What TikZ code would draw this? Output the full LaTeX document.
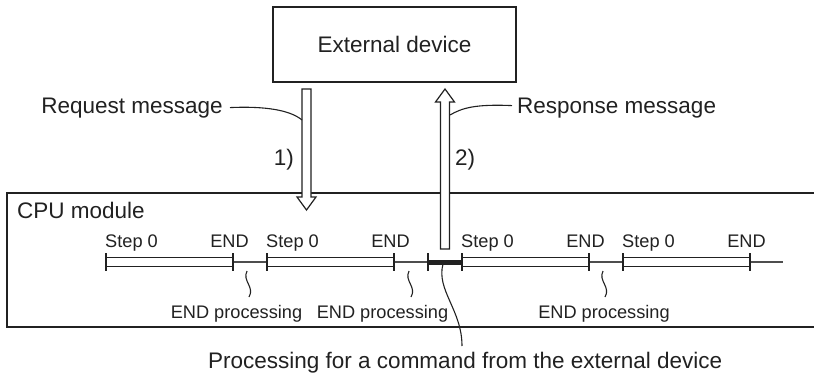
\documentclass[tikz,border=0pt]{standalone}
\usepackage{fontspec}
\setmainfont{Liberation Sans}
\usetikzlibrary{calc}
\definecolor{ink}{gray}{0.13}
\def\blockarrow(#1:#2:#3:#4){\draw[blockarrow] (#1-4.5,#2) -- (#1-4.5,#3) -- (#1-9.5,#3) -- (#1,#4) -- (#1+9.5,#3) -- (#1+4.5,#3) -- (#1+4.5,#2) -- cycle;}
\def\scanbar(#1:#2){\draw[scanbar] (#1,257.5) rectangle (#2,266.5); \draw[scantick] (#1,253) -- (#1,271); \draw[scantick] (#2,253) -- (#2,271);}
\def\squiggle(#1){\draw[leader] (#1,271) .. controls (#1-5,281) and (#1+8,287) .. (#1+2,297);}
\tikzset{
	bigtext/.style={font=\fontsize{22.5}{27}\selectfont, text=ink, inner sep=0pt},
	smalltext/.style={font=\fontsize{18.2}{22}\selectfont, text=ink, inner sep=0pt},
	frame/.style={draw=ink, line width=1.3pt},
	blockarrow/.style={draw=ink, line width=1.2pt, fill=white},
	leader/.style={draw=ink, line width=1.1pt},
	scanbar/.style={draw=ink, line width=1.2pt, fill=white},
	scantick/.style={draw=ink, line width=1.2pt},
	timeline/.style={draw=ink!80, line width=1.4pt},
	cmdbar/.style={fill=ink}
}
\begin{document}
\begin{tikzpicture}[x=1pt,y=-1pt]
			%%%%% START %%%%%
			\useasboundingbox (0,0) rectangle (814,380);
			
			\node[frame, bigtext, minimum width=243pt, minimum height=75pt] (ext) at (394.5,44.5) {External device};
			
			\draw[frame] (814,193) -- (7,193) -- (7,327) -- (814,327);
			\node[bigtext, anchor=base west] (cpu) at (17,218) {CPU module};
			
			\blockarrow(306.5:89:197:210)
			\blockarrow(445:249:102:89)
			
			\node[bigtext, anchor=base east] (reqmsg) at (223,113) {Request message};
			\draw[leader] ([xshift=7pt]reqmsg.east) .. controls (265,106) and (290,110) .. (302,120);
			\node[bigtext, anchor=base west] (resmsg) at (517,113) {Response message};
			\draw[leader] (450,115) .. controls (462,108) and (475,104) .. ([xshift=-5pt,yshift=2pt]resmsg.west);
			
			\node[bigtext, anchor=base east] (reqnum) at (294,165) {1)};
			\node[bigtext, anchor=base west] (resnum) at (455,165) {2)};
			
			\draw[timeline] (106,262) -- (783,262);
			\scanbar(106:233)
			\scanbar(267:394)
			\scanbar(462:589)
			\scanbar(623:750)
			\fill[cmdbar] (428,259.8) rectangle (462,264.5);
			\draw[scantick] (428,253) -- (428,271);
			
			\foreach \s/\e in {106/233,267/394,462/589,623/750} {
				\node[smalltext, anchor=base west] (step\s) at (\s-1,247) {Step 0};
				\node[smalltext, anchor=base] (end\e) at (\e-3.5,247) {END};
			}
			
			\squiggle(247)
			\squiggle(409)
			\squiggle(603)
			\node[smalltext, anchor=base] (endproc1) at (236.5,318) {END processing};
			\node[smalltext, anchor=base] (endproc2) at (382.5,318) {END processing};
			\node[smalltext, anchor=base] (endproc3) at (604,318) {END processing};
			
			\node[bigtext, anchor=base west] (cmdlbl) at (208,368) {Processing for a command from the external device};
			\draw[leader] (443,264) .. controls (436,290) and (462,310) .. (462,346);
			
			%%%%% END %%%%%
\end{tikzpicture}
\end{document}
